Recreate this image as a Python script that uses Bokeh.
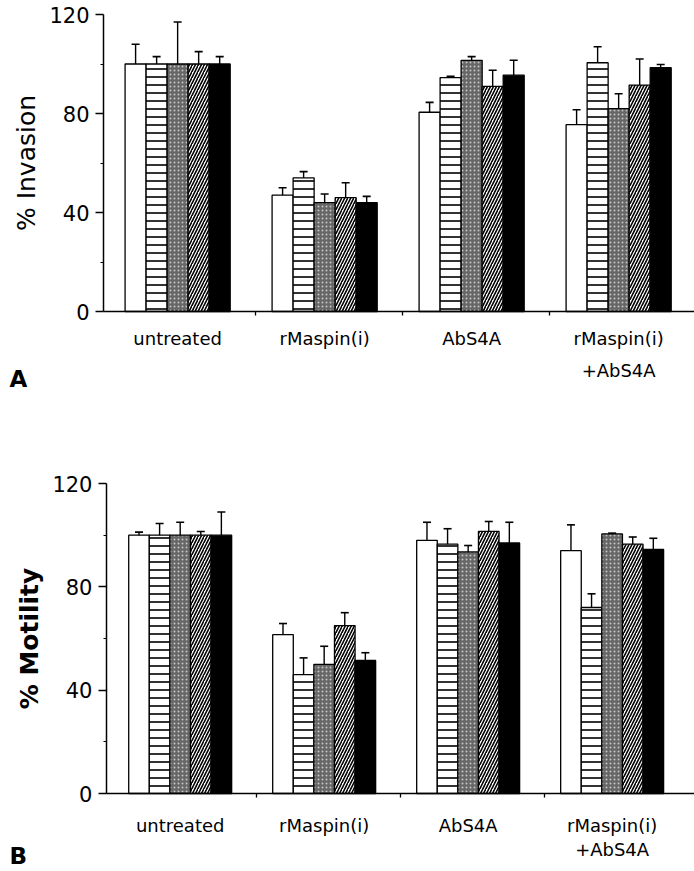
from bokeh.plotting import figure
from bokeh.models import FixedTicker, Range1d, Whisker, TeeHead, ColumnDataSource
from bokeh.layouts import column
from bokeh.embed import file_html
from bokeh.resources import INLINE
from bokeh.core.properties import value

# ---------------- data ----------------
categories = ["untreated", "rMaspin(i)", "AbS4A", "rMaspin(i)\n+AbS4A"]
panel_letters = ["A", "B"]
y_ticks = [0, 40, 80, 120]
y_minor_ticks = [20, 60, 100]

# % Invasion (panel A): one list per category, five bars each
invasion_untreated = [100, 100, 100, 100, 100]
invasion_rmaspin = [47, 54, 44, 46, 44]
invasion_abs4a = [80.5, 94.5, 101.5, 91, 95.5]
invasion_combined = [75.5, 100.5, 82, 91.5, 98.5]
invasion_err_untreated = [8, 3, 17, 5, 3]
invasion_err_rmaspin = [3, 2.5, 3.5, 6, 2.5]
invasion_err_abs4a = [4, 0.5, 1.5, 6.5, 6]
invasion_err_combined = [6, 6.5, 6, 10.5, 1.3]

# % Motility (panel B)
motility_untreated = [100, 100, 100, 100, 100]
motility_rmaspin = [61.5, 46, 50, 65, 51.5]
motility_abs4a = [98, 96.5, 93.5, 101.5, 97]
motility_combined = [94, 72, 100.5, 96.5, 94.5]
motility_err_untreated = [1.2, 4.5, 5, 1.4, 9]
motility_err_rmaspin = [4.3, 6.5, 7, 5, 3]
motility_err_abs4a = [7, 6, 2.5, 3.8, 8]
motility_err_combined = [10, 5.3, 0.3, 2.8, 4.3]

invasion = [invasion_untreated, invasion_rmaspin, invasion_abs4a, invasion_combined]
invasion_err = [invasion_err_untreated, invasion_err_rmaspin, invasion_err_abs4a, invasion_err_combined]
motility = [motility_untreated, motility_rmaspin, motility_abs4a, motility_combined]
motility_err = [motility_err_untreated, motility_err_rmaspin, motility_err_abs4a, motility_err_combined]

# ---------------- styles ----------------
bar_styles = [
    dict(fill_color="white"),
    dict(fill_color="white", hatch_pattern="horizontal_line", hatch_color="black",
         hatch_scale=8, hatch_weight=1.6),
    dict(fill_color="#666666", hatch_pattern="dot", hatch_color="#c4c4c4",
         hatch_scale=4, hatch_weight=1.2),
    dict(fill_color="white", hatch_pattern="right_diagonal_line", hatch_color="black",
         hatch_scale=6, hatch_weight=1.6),
    dict(fill_color="black"),
]

FONT = "DejaVu Sans"
BAR_W = 0.143
GROUP_OFFSET = 0.47


def make_panel(values, errs, ylabel, ylabel_style, letter, height,
               x_range, y_range, yaxis_x, label_standoff, line_height, letter_x, letter_y):
    p = figure(width=694, height=height, output_backend="svg", toolbar_location=None,
               x_range=Range1d(*x_range), y_range=Range1d(*y_range),
               min_border=0, min_border_top=0, min_border_bottom=0,
               min_border_left=0, min_border_right=0)
    p.outline_line_color = None
    p.xgrid.visible = False
    p.ygrid.visible = False
    p.background_fill_color = "white"
    p.border_fill_color = "white"

    n_series = len(bar_styles)
    centers = [round(c + GROUP_OFFSET, 3) for c in range(len(categories))]
    for s in range(n_series):
        xs = [centers[c] + (s - (n_series - 1) / 2) * BAR_W for c in range(len(categories))]
        tops = [values[c][s] for c in range(len(categories))]
        uppers = [values[c][s] + errs[c][s] for c in range(len(categories))]
        src = ColumnDataSource(dict(x=xs, top=tops, upper=uppers))
        w = Whisker(source=src, base="x", lower="top", upper="upper",
                    line_color="black", line_width=1.4, lower_head=None,
                    upper_head=TeeHead(size=8, line_width=1.6, line_color="black"))
        w.level = "glyph"
        p.add_layout(w)
        p.vbar(x="x", top="top", bottom=0, width=BAR_W, source=src,
               line_color="black", line_width=1.3, **bar_styles[s])

    # y axis, pinned at the left end of the category axis
    ya = p.yaxis[0]
    ya.fixed_location = yaxis_x
    ya.bounds = (y_ticks[0], y_ticks[-1])
    ya.ticker = FixedTicker(ticks=y_ticks, minor_ticks=y_minor_ticks)
    ya.axis_line_width = 1.5
    ya.major_tick_out = 8
    ya.major_tick_in = 0
    ya.major_tick_line_width = 1.5
    ya.minor_tick_out = 3
    ya.minor_tick_in = 0
    ya.minor_tick_line_width = 1.2
    ya.major_label_text_font = FONT
    ya.major_label_text_font_size = "21px"
    ya.major_label_text_color = "black"
    ya.major_label_standoff = 6
    ya.axis_label = ylabel
    ya.axis_label_text_font = FONT
    ya.axis_label_text_font_size = "25px"
    ya.axis_label_text_font_style = ylabel_style
    ya.axis_label_text_color = "black"
    ya.axis_label_standoff = 5

    # x axis at y = 0: labels under each group, ticks at group boundaries
    xa = p.xaxis[0]
    xa.fixed_location = 0
    xa.bounds = (yaxis_x, x_range[1])
    xa.ticker = FixedTicker(ticks=centers, minor_ticks=list(range(1, len(categories))))
    xa.major_label_overrides = {centers[c]: categories[c] for c in range(len(categories))}
    xa.axis_line_width = 1.5
    xa.major_tick_out = 0
    xa.major_tick_in = 0
    xa.minor_tick_out = 4
    xa.minor_tick_in = 0
    xa.minor_tick_line_width = 1.3
    xa.major_label_text_font = FONT
    xa.major_label_text_font_size = "18px"
    xa.major_label_text_color = "black"
    xa.major_label_text_line_height = line_height
    xa.major_label_standoff = label_standoff

    p.text(x=[letter_x], y=[letter_y], text=[letter], text_font=value(FONT),
           text_font_size="23px", text_font_style="bold", text_align="left",
           text_baseline="middle", text_color="black")
    return p


top = make_panel(invasion, invasion_err, "% Invasion", "normal", panel_letters[0],
                 height=405, x_range=(-0.735, 3.986), y_range=(-37.98, 125.66),
                 yaxis_x=-0.034, label_standoff=12, line_height=1.57,
                 letter_x=-0.673, letter_y=-27.1)
bottom = make_panel(motility, motility_err, "% Motility", "bold", panel_letters[1],
                    height=463, x_range=(-0.778, 4.042), y_range=(-29.03, 150.2),
                    yaxis_x=-0.042, label_standoff=17, line_height=1.15,
                    letter_x=-0.715, letter_y=-24.0)

layout = column(top, bottom, spacing=0)
open("out.html", "w").write(file_html(layout, INLINE))
